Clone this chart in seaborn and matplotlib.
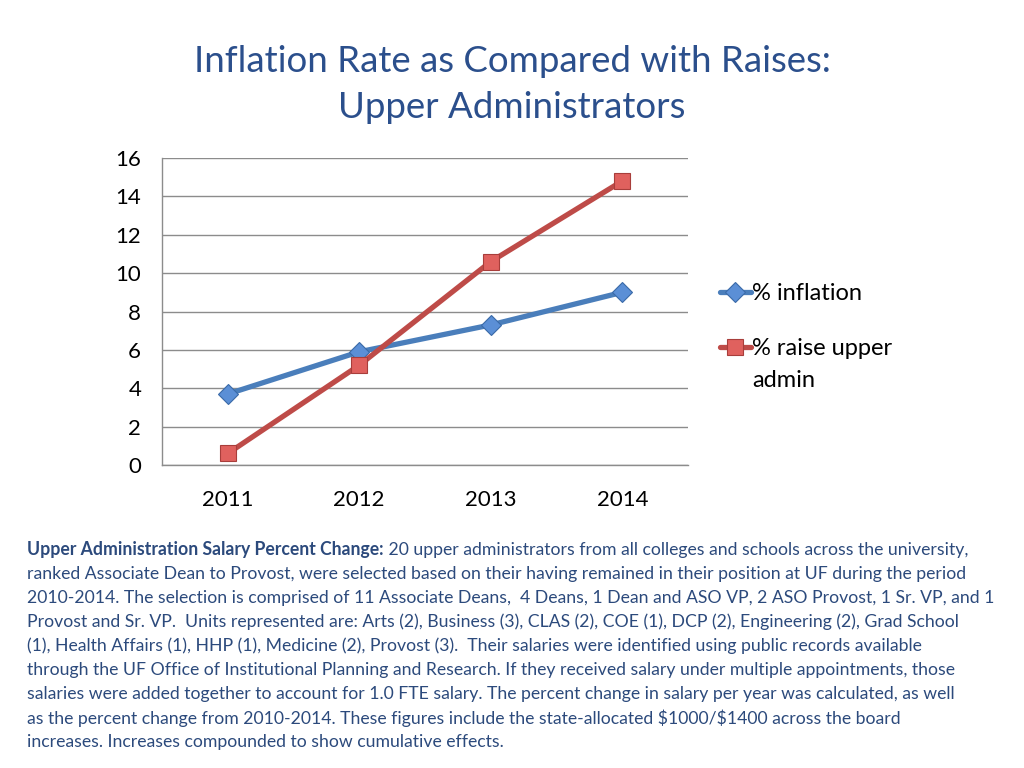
import pandas as pd
import numpy as np
import matplotlib.pyplot as plt
import seaborn as sns

# данные графика
years = ['2011', '2012', '2013', '2014']
inflation = [3.7, 5.9, 7.3, 9.0]
raise_admin = [0.6, 5.2, 10.6, 14.8]
series_names = ['% inflation', '% raise upper admin']

df = pd.DataFrame({
    'pos': list(range(len(years))) * 2,
    'value': inflation + raise_admin,
    'series': [series_names[0]] * len(years) + [series_names[1]] * len(years),
})

sns.set_theme(style='white')
plt.rcParams['font.family'] = ['Lato', 'DejaVu Sans']

fig = plt.figure(figsize=(10.24, 7.68), dpi=100)
ax = fig.add_axes([162 / 1024, 1 - 465 / 768, 526 / 1024, 307 / 768])

styles = {
    series_names[0]: dict(color='#4A7EBB', marker='D', mfc='#5B8FD6', mec='#3A6AA8', ms=10),
    series_names[1]: dict(color='#BE4B48', marker='s', mfc='#E0615E', mec='#A83E3B', ms=12),
}
for name in series_names:
    st = styles[name]
    sub = df[df['series'] == name]
    sns.lineplot(data=sub, x='pos', y='value', ax=ax, color=st['color'], linewidth=3.8,
                 marker=st['marker'], markersize=st['ms'], markerfacecolor=st['mfc'],
                 markeredgecolor=st['mec'], markeredgewidth=0.8, label=name)

ax.set_xlim(-0.5, len(years) - 0.5)
ax.set_ylim(0, 16)
ax.set_yticks(range(0, 17, 2))
ax.set_xticks(np.arange(-0.5, len(years), 1.0))
ax.set_xticklabels([])
ax.set_xticks(range(len(years)), minor=True)
ax.set_xticklabels(years, minor=True)
ax.tick_params(axis='x', which='major', direction='out', length=7, color='#888888', width=1)
ax.tick_params(axis='x', which='minor', length=0, pad=18, labelsize=16, labelcolor='black')
ax.tick_params(axis='y', direction='out', length=7, color='#888888', width=1, labelsize=16,
               labelcolor='black', pad=8)
ax.yaxis.grid(True, color='#8C8C8C', linewidth=1)
ax.set_axisbelow(True)
for s in ['top', 'right']:
    ax.spines[s].set_visible(False)
for s in ['left', 'bottom']:
    ax.spines[s].set_color('#8C8C8C')
    ax.spines[s].set_linewidth(1)
ax.set_xlabel('')
ax.set_ylabel('')

# легенда: вторая подпись переносится вручную, как в оригинале
handles, labels = ax.get_legend_handles_labels()
labels = ['% inflation', '% raise upper']
leg = ax.legend(handles, labels, loc='upper left', bbox_to_anchor=(1.061, 0.592), frameon=False,
                fontsize=17, handlelength=1.3, handletextpad=0.05, labelspacing=1.45,
                borderaxespad=0, borderpad=0)
for t in leg.get_texts():
    t.set_color('black')

fig.text(0.5, 1 - 62 / 768, 'Inflation Rate as Compared with Raises:', ha='center', va='center',
         fontsize=26.4, color='#2B4F8C')
fig.text(0.5, 1 - 108 / 768, 'Upper Administrators', ha='center', va='center',
         fontsize=26.4, color='#2B4F8C')

body_color = '#2C4A7C'
bold_part = 'Upper Administration Salary Percent Change:'
lines = [
    ' 20 upper administrators from all colleges and schools across the university,',
    'ranked Associate Dean to Provost, were selected based on their having remained in their position at UF during the period',
    '2010-2014. The selection is comprised of 11 Associate Deans,  4 Deans, 1 Dean and ASO VP, 2 ASO Provost, 1 Sr. VP, and 1',
    'Provost and Sr. VP.  Units represented are: Arts (2), Business (3), CLAS (2), COE (1), DCP (2), Engineering (2), Grad School',
    '(1), Health Affairs (1), HHP (1), Medicine (2), Provost (3).  Their salaries were identified using public records available',
    'through the UF Office of Institutional Planning and Research. If they received salary under multiple appointments, those',
    'salaries were added together to account for 1.0 FTE salary. The percent change in salary per year was calculated, as well',
    'as the percent change from 2010-2014. These figures include the state-allocated \\$1000/\\$1400 across the board',
    'increases. Increases compounded to show cumulative effects.',
]
body_size = 12.7
x0 = 27 / 1024
bt = fig.text(x0, 1 - 550 / 768, bold_part, ha='left', va='center', fontsize=body_size,
              fontweight='bold', color=body_color)
fig.canvas.draw()
rend = fig.canvas.get_renderer()
bb = bt.get_window_extent(renderer=rend)
fig.text(bb.x1 / fig.bbox.width, 1 - 550 / 768, lines[0], ha='left', va='center',
         fontsize=body_size, color=body_color)
for i, line in enumerate(lines[1:], start=1):
    fig.text(x0, 1 - (550 + 24 * i) / 768, line, ha='left', va='center',
             fontsize=body_size, color=body_color)

# вторая строка подписи легенды
tb = leg.get_texts()[1].get_window_extent(renderer=rend)
fig.text(tb.x0 / fig.bbox.width, (tb.y0 + tb.y1) / 2 / fig.bbox.height - 32 / 768, 'admin',
         ha='left', va='center', fontsize=17, color='black')

fig.savefig('out.png', dpi=100)
